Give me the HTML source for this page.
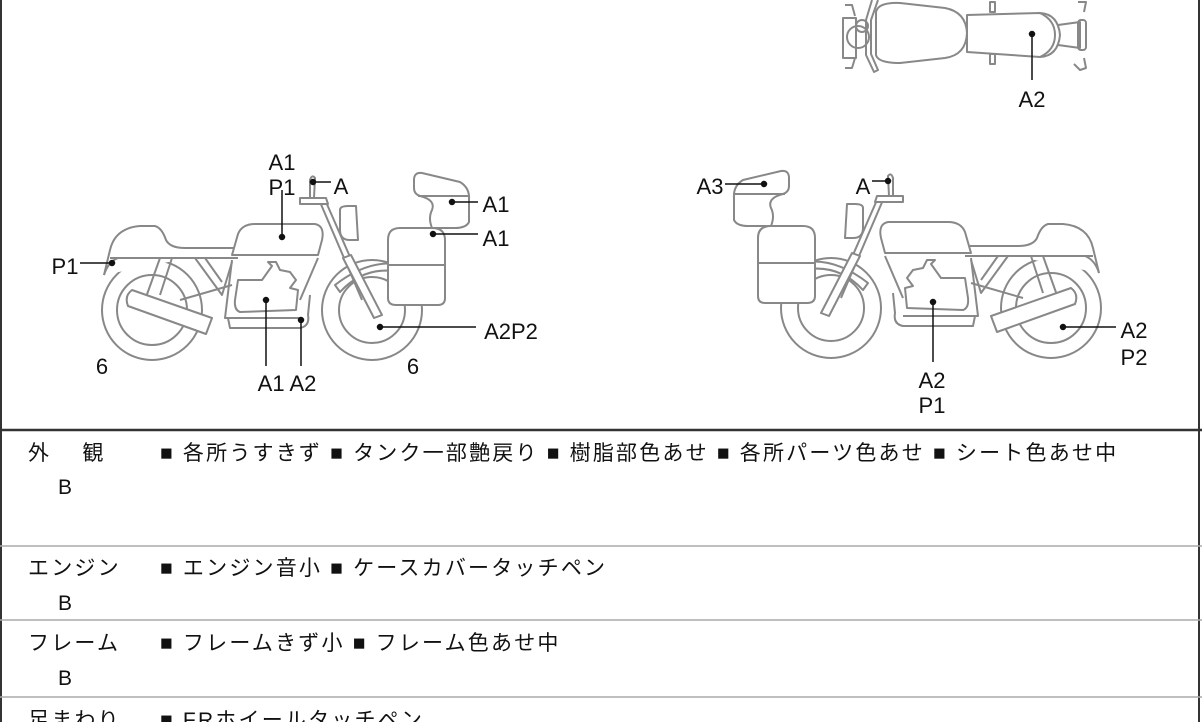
<!DOCTYPE html>
<html><head><meta charset="utf-8"><style>
html,body{margin:0;padding:0;background:#fff;}
body{width:1202px;height:722px;overflow:hidden;position:relative;font-family:"Liberation Sans","Noto Sans CJK JP",sans-serif;}
svg{position:absolute;left:0;top:0;}
.t{font-family:"Liberation Sans","Noto Sans CJK JP",sans-serif;font-size:22px;fill:#111;}
.tb{font-family:"Liberation Sans","Noto Sans CJK JP",sans-serif;font-size:21px;fill:#111;letter-spacing:2.2px;}
</style></head><body>
<svg width="1202" height="722" viewBox="0 0 1202 722">
<defs>
<g id="bike" fill="none" stroke="#888" stroke-width="2" stroke-linejoin="round">
  <circle cx="152" cy="310" r="50" fill="#fff"/>
  <circle cx="152" cy="310" r="35"/>
  <circle cx="372" cy="310" r="50" fill="#fff"/>
  <circle cx="372" cy="310" r="33"/>
  <path d="M104 275 L110 250 Q115 228 140 226 L155 226 Q162 228 166 240 Q170 248 185 248 L238 248" fill="#fff"/>
  <path d="M110 258 L238 258"/>
  <path d="M104 275 Q108 262 118 258"/>
  <path d="M160 258 L145 300 M172 258 L160 295"/>
  <path d="M195 258 L222 295 L232 262"/>
  <path d="M205 258 L222 282"/>
  <path d="M180 300 L232 285"/>
  <path d="M232 255 L238 234 Q242 224 255 224 L315 224 Q325 226 322 240 L318 255 Z" fill="#fff"/>
  <path d="M232 260 L225 318 L300 318"/>
  <path d="M318 258 L300 300"/>
  <path d="M228 318 L230 328 L300 328 Q310 326 308 315 L310 295"/>
  <path d="M238 280 L262 280 L272 266 L268 262 L276 262 L280 270 L290 272 L296 280 L290 288 L298 290 L296 310 L240 312 Q234 310 235 300 Z"/>
  <path d="M132 290 L212 318 L206 334 L128 306 Q124 296 132 290 Z" fill="#fff"/>
  <path d="M340 292 Q365 265 400 272 L402 265 Q370 258 335 285 Z"/>
  <path d="M320 202 L362 300 M326 202 L368 298"/>
  <path d="M343 258 L351 255 L382 315 L374 318 Z" fill="#fff"/>
  <path d="M340 210 Q340 206 348 206 L356 206 L358 240 L350 240 Q340 240 340 230 Z" fill="#fff"/>
  <path d="M300 198 L326 198 L328 204 L300 204 Z" fill="#fff"/>
  <path d="M310 198 L310 180 Q312 174 315 178 L314 198"/>
  <path d="M388 240 Q388 228 400 228 L432 228 Q445 228 445 240 L445 298 Q445 305 438 305 L396 305 Q388 305 388 298 Z" fill="#fff"/>
  <path d="M388 265 L445 265"/>
  <path d="M414 180 Q414 172 422 173 L460 182 Q470 188 469 200 L469 222 Q466 228 455 228 L432 228 Q428 218 432 210 Q436 200 420 196 Q414 194 414 188 Z" fill="#fff"/>
  <path d="M418 196 L469 196"/>
</g>
</defs>
<line x1="1" y1="0" x2="1" y2="722" stroke="#333" stroke-width="2"/>
<line x1="1199" y1="0" x2="1199" y2="722" stroke="#333" stroke-width="2"/>
<line x1="0" y1="430" x2="1202" y2="430" stroke="#333" stroke-width="2.5"/>
<line x1="0" y1="546" x2="1202" y2="546" stroke="#aaa" stroke-width="1.5"/>
<line x1="0" y1="620" x2="1202" y2="620" stroke="#aaa" stroke-width="1.5"/>
<line x1="0" y1="697" x2="1202" y2="697" stroke="#aaa" stroke-width="1.5"/>

<use href="#bike"/>
<use href="#bike" transform="translate(1203,-2) scale(-1,1)"/>

<g fill="none" stroke="#888" stroke-width="2" stroke-linejoin="round">
  <path d="M876 12 Q878 2 900 3 L945 8 Q966 12 967 33 Q966 55 945 58 L900 63 Q878 63 876 55 Z" fill="#fff"/>
  <path d="M967 15 L1040 13 Q1058 14 1060 35 Q1058 56 1040 57 L967 52 Z"/>
  <path d="M1040 13 Q1055 20 1055 35 Q1055 50 1040 57"/>
  <path d="M1058 25 L1080 22 L1080 48 L1058 45"/>
  <rect x="1078" y="20" width="8" height="30" rx="3"/>
  <circle cx="858" cy="37" r="11"/>
  <circle cx="862" cy="26" r="6"/>
  <path d="M872 0 L866 20 L866 55 L874 72 L878 70 L871 54 L871 20 L878 0"/>
  <path d="M843 18 L856 18 L856 58 L843 58 Z"/>
  <path d="M845 5 L852 5 L855 16 M845 68 L852 68 L855 58"/>
  <rect x="990" y="2" width="5" height="10"/>
  <rect x="990" y="54" width="5" height="10"/>
  <path d="M1078 2 L1086 2 L1084 12 M1074 64 L1080 70 L1086 68 L1084 58"/>
</g>

<g stroke="#111" stroke-width="1.5" fill="#111">
  <line x1="1032" y1="34" x2="1032" y2="80"/><circle cx="1032" cy="34" r="2.5"/>
  <line x1="282" y1="190" x2="282" y2="237"/><circle cx="282" cy="237" r="2.5"/>
  <line x1="313" y1="182" x2="331" y2="182"/><circle cx="313" cy="182" r="2.5"/>
  <line x1="452" y1="202" x2="478" y2="202"/><circle cx="452" cy="202" r="2.5"/>
  <line x1="433" y1="234" x2="478" y2="234"/><circle cx="433" cy="234" r="2.5"/>
  <line x1="80" y1="263" x2="112" y2="263"/><circle cx="112" cy="263" r="2.5"/>
  <line x1="380" y1="327" x2="476" y2="327"/><circle cx="380" cy="327" r="2.5"/>
  <line x1="266" y1="300" x2="266" y2="366"/><circle cx="266" cy="300" r="2.5"/>
  <line x1="301" y1="320" x2="301" y2="366"/><circle cx="301" cy="320" r="2.5"/>
  <line x1="725" y1="184" x2="764" y2="184"/><circle cx="764" cy="184" r="2.5"/>
  <line x1="872" y1="181" x2="888" y2="181"/><circle cx="888" cy="181" r="2.5"/>
  <line x1="1063" y1="327" x2="1116" y2="327"/><circle cx="1063" cy="327" r="2.5"/>
  <line x1="933" y1="302" x2="933" y2="362"/><circle cx="933" cy="302" r="2.5"/>
</g>

<g class="t" text-anchor="middle">
  <text x="1032" y="107">A2</text>
  <text x="282" y="170">A1</text>
  <text x="282" y="195">P1</text>
  <text x="341" y="194">A</text>
  <text x="496" y="212">A1</text>
  <text x="496" y="246">A1</text>
  <text x="65" y="274">P1</text>
  <text x="511" y="339">A2P2</text>
  <text x="102" y="374">6</text>
  <text x="413" y="374">6</text>
  <text x="287" y="391">A1 A2</text>
  <text x="710" y="194">A3</text>
  <text x="863" y="194">A</text>
  <text x="1134" y="338">A2</text>
  <text x="1134" y="365">P2</text>
  <text x="932" y="388">A2</text>
  <text x="932" y="413">P1</text>
</g>

<g class="tb">
  <text x="28" y="460">外　 観</text>
  <text x="58" y="494">B</text>
  <text x="160" y="460">■ 各所うすきず ■ タンク一部艶戻り ■ 樹脂部色あせ ■ 各所パーツ色あせ ■ シート色あせ中</text>
  <text x="28" y="575">エンジン</text>
  <text x="58" y="610">B</text>
  <text x="160" y="575">■ エンジン音小 ■ ケースカバータッチペン</text>
  <text x="28" y="650">フレーム</text>
  <text x="58" y="685">B</text>
  <text x="160" y="650">■ フレームきず小 ■ フレーム色あせ中</text>
  <text x="28" y="727">足まわり</text>
  <text x="160" y="727">■ FRホイールタッチペン</text>
</g>
</svg>
</body></html>
